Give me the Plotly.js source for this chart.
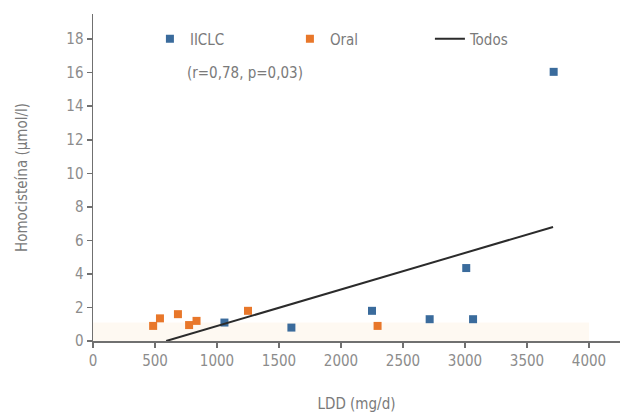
<!DOCTYPE html>
<html>
<head>
<meta charset="utf-8">
<script src="https://cdn.plot.ly/plotly-3.0.1.min.js"></script>
<style>html,body{margin:0;padding:0;background:#fff}#chart{width:626px;height:417px}</style>
</head>
<body>
<div id="chart"></div>
<script>
// Data
const iiclcX = [1060, 1600, 2250, 2715, 3010, 3065, 3715];
const iiclcY = [1.1, 0.8, 1.8, 1.3, 4.35, 1.3, 16.05];
const oralX = [485, 540, 685, 775, 835, 1250, 2295];
const oralY = [0.9, 1.35, 1.6, 0.95, 1.2, 1.8, 0.9];
const todosX = [590, 3710];
const todosY = [0, 6.8];
const xTicks = [0, 500, 1000, 1500, 2000, 2500, 3000, 3500, 4000];
const yTicks = [0, 2, 4, 6, 8, 10, 12, 14, 16, 18];
const refBandX = [0, 4000];
const refBandY = [0, 1.1];
const statsText = '(r=0,78, p=0,03)';

const FONT = '"DejaVu Sans Condensed", "DejaVu Sans", sans-serif';
const GREY = '#8c8c8c';

const traces = [
  {x: iiclcX, y: iiclcY, name: 'IICLC', type: 'scatter', mode: 'markers',
   marker: {symbol: 'square', size: 8, color: '#3a6b9c'}},
  {x: oralX, y: oralY, name: 'Oral', type: 'scatter', mode: 'markers',
   marker: {symbol: 'square', size: 8, color: '#e8772a'}},
  {x: todosX, y: todosY, name: 'Todos', type: 'scatter', mode: 'lines',
   line: {color: '#2b2b2b', width: 2}}
];

const axisCommon = {
  showline: true, linecolor: '#707070', linewidth: 1.5,
  ticks: 'outside', ticklen: 5, tickcolor: '#707070', tickwidth: 1.5,
  showgrid: false, zeroline: false,
  tickfont: {family: FONT, size: 15, color: GREY}
};

const layout = {
  width: 626, height: 417,
  margin: {l: 93, r: 6, t: 14, b: 76},
  paper_bgcolor: '#fff', plot_bgcolor: '#fff',
  font: {family: FONT, color: GREY},
  showlegend: true,
  legend: {orientation: 'h', x: 0.108, y: 0.9235, xanchor: 'left', yanchor: 'middle',
           entrywidth: 95, entrywidthmode: 'pixels',
           font: {family: FONT, size: 15, color: '#7a7a7a'}, bgcolor: 'rgba(0,0,0,0)'},
  xaxis: Object.assign({}, axisCommon, {
    range: [0, 4250], tickvals: xTicks, ticktext: xTicks.map(String),
    title: {text: 'LDD (mg/d)', font: {family: FONT, size: 15, color: '#7a7a7a'}, standoff: 30}
  }),
  yaxis: Object.assign({}, axisCommon, {
    range: [0, 19.5], tickvals: yTicks, ticktext: yTicks.map(String),
    title: {text: 'Homocisteína (µmol/l)', font: {family: FONT, size: 15, color: '#7a7a7a'}, standoff: 35}
  }),
  shapes: [{type: 'rect', xref: 'x', yref: 'y', x0: refBandX[0], x1: refBandX[1],
            y0: refBandY[0], y1: refBandY[1], fillcolor: '#fdf1e3', opacity: 0.45,
            line: {width: 0}, layer: 'below'}],
  annotations: [{x: 742, y: 15.97, xref: 'x', yref: 'y', xanchor: 'left', yanchor: 'middle',
                 text: statsText, showarrow: false,
                 font: {family: FONT, size: 15, color: '#7a7a7a'}}]
};

Plotly.newPlot('chart', traces, layout, {displayModeBar: false, staticPlot: true});
</script>
</body>
</html>
